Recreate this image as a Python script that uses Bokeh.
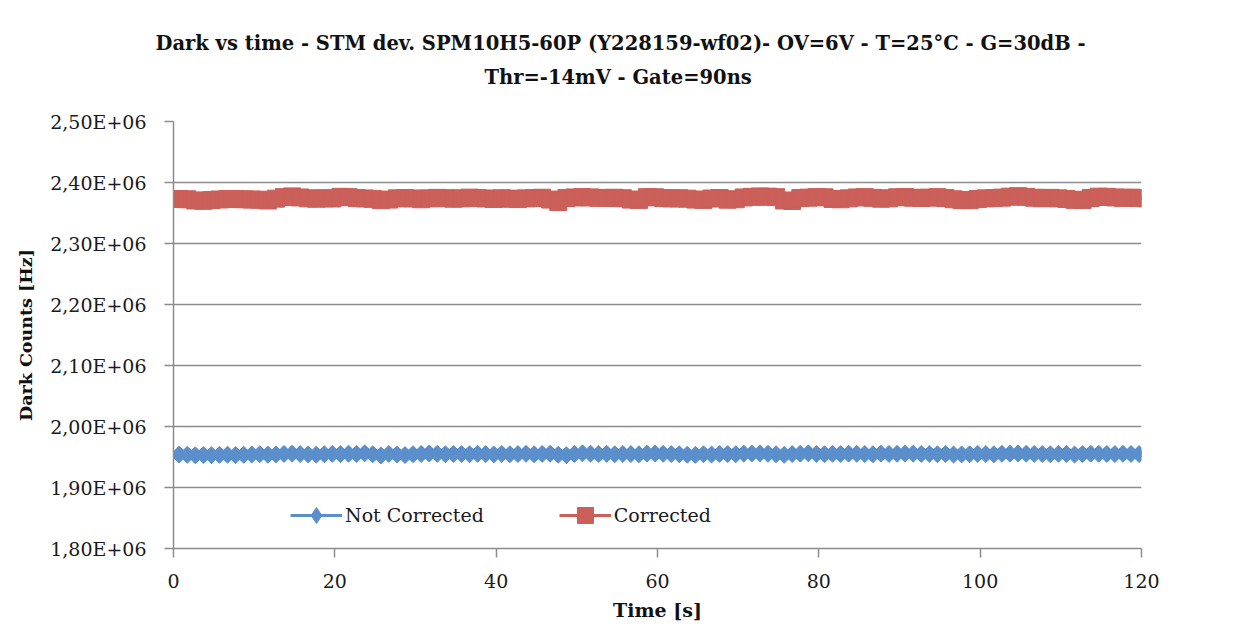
import numpy as np
from bokeh.plotting import figure
from bokeh.models import FixedTicker, CustomJSTickFormatter, Title, Legend, LegendItem, Range1d
from bokeh.embed import file_html
from bokeh.resources import INLINE

# ---------------- data ----------------
title_line1 = "Dark vs time - STM dev. SPM10H5-60P (Y228159-wf02)- OV=6V - T=25°C - G=30dB -"
title_line2 = "Thr=-14mV - Gate=90ns"
x_label = "Time [s]"
y_label = "Dark Counts [Hz]"
series_names = ["Not Corrected", "Corrected"]

time_s = [round(0.7 + i, 1) for i in range(121)]

not_corrected_e6 = [
    1.9540, 1.9535, 1.9528, 1.9532, 1.9530, 1.9535, 1.9538, 1.9532, 1.9536, 1.9540,
    1.9545, 1.9538, 1.9542, 1.9550, 1.9555, 1.9548, 1.9542, 1.9538, 1.9545, 1.9552,
    1.9548, 1.9555, 1.9550, 1.9560, 1.9545, 1.9525, 1.9550, 1.9540, 1.9532, 1.9545,
    1.9550, 1.9558, 1.9552, 1.9545, 1.9550, 1.9548, 1.9545, 1.9552, 1.9548, 1.9542,
    1.9550, 1.9545, 1.9548, 1.9552, 1.9545, 1.9550, 1.9555, 1.9538, 1.9530, 1.9550,
    1.9560, 1.9555, 1.9548, 1.9552, 1.9545, 1.9550, 1.9548, 1.9545, 1.9555, 1.9558,
    1.9552, 1.9548, 1.9545, 1.9538, 1.9535, 1.9545, 1.9540, 1.9550, 1.9548, 1.9545,
    1.9555, 1.9558, 1.9560, 1.9552, 1.9545, 1.9535, 1.9548, 1.9555, 1.9560, 1.9550,
    1.9545, 1.9552, 1.9548, 1.9555, 1.9552, 1.9548, 1.9545, 1.9555, 1.9550, 1.9552,
    1.9558, 1.9555, 1.9550, 1.9548, 1.9545, 1.9550, 1.9540, 1.9542, 1.9545, 1.9550,
    1.9548, 1.9545, 1.9552, 1.9555, 1.9558, 1.9552, 1.9550, 1.9548, 1.9545, 1.9552,
    1.9550, 1.9540, 1.9548, 1.9555, 1.9552, 1.9550, 1.9548, 1.9552, 1.9550, 1.9548,
    1.9552]

corrected_e6 = [
    2.3730, 2.3725, 2.3705, 2.3700, 2.3712, 2.3722, 2.3728, 2.3730, 2.3725, 2.3720,
    2.3718, 2.3705, 2.3735, 2.3760, 2.3772, 2.3755, 2.3740, 2.3735, 2.3742, 2.3738,
    2.3765, 2.3760, 2.3745, 2.3738, 2.3732, 2.3712, 2.3720, 2.3740, 2.3745, 2.3738,
    2.3725, 2.3740, 2.3748, 2.3742, 2.3735, 2.3740, 2.3752, 2.3745, 2.3738, 2.3730,
    2.3742, 2.3735, 2.3728, 2.3740, 2.3745, 2.3750, 2.3720, 2.3680, 2.3745, 2.3755,
    2.3760, 2.3755, 2.3748, 2.3745, 2.3750, 2.3742, 2.3720, 2.3715, 2.3760, 2.3758,
    2.3745, 2.3738, 2.3742, 2.3735, 2.3720, 2.3715, 2.3738, 2.3745, 2.3718, 2.3725,
    2.3755, 2.3765, 2.3770, 2.3768, 2.3760, 2.3705, 2.3698, 2.3745, 2.3752, 2.3760,
    2.3758, 2.3730, 2.3725, 2.3740, 2.3755, 2.3760, 2.3748, 2.3735, 2.3740, 2.3758,
    2.3762, 2.3750, 2.3745, 2.3752, 2.3760, 2.3745, 2.3725, 2.3712, 2.3710, 2.3728,
    2.3740, 2.3745, 2.3752, 2.3768, 2.3775, 2.3765, 2.3750, 2.3742, 2.3748, 2.3740,
    2.3730, 2.3715, 2.3712, 2.3745, 2.3768, 2.3765, 2.3755, 2.3748, 2.3752, 2.3745,
    2.3740]

x_ticks = [0, 20, 40, 60, 80, 100, 120]
y_ticks = [1800000, 1900000, 2000000, 2100000, 2200000, 2300000, 2400000, 2500000]

not_corrected = [v * 1e6 for v in not_corrected_e6]
corrected = [v * 1e6 for v in corrected_e6]

# ---------------- styling ----------------
FONT = "DejaVu Serif"
BLUE = "#5A8FCB"
RED = "#CB5F5A"
AXIS_GRAY = "#8C8C8C"

p = figure(width=1236, height=628, output_backend="svg", toolbar_location=None, title=None,
           x_range=Range1d(x_ticks[0], x_ticks[-1]), y_range=Range1d(y_ticks[0], y_ticks[-1]),
           min_border_left=173, min_border_right=95, min_border_top=121, min_border_bottom=80)
p.outline_line_color = None
p.background_fill_color = "white"
p.border_fill_color = "white"

# panels above are stacked outward from the frame in the order they are added
p.add_layout(Title(text=" ", text_font_size="1px", standoff=25), "above")
p.add_layout(Title(text=title_line2, align="left", offset=311, text_font=FONT, text_font_size="19.5px",
                   text_font_style="bold", text_color="#111111", standoff=9), "above")
p.add_layout(Title(text=title_line1, align="left", offset=-18, text_font=FONT, text_font_size="19.5px",
                   text_font_style="bold", text_color="#111111", standoff=9), "above")

# axes
p.xaxis.ticker = FixedTicker(ticks=x_ticks)
p.yaxis.ticker = FixedTicker(ticks=y_ticks)
p.yaxis.formatter = CustomJSTickFormatter(
    code="var s = tick.toExponential(2).replace('.', ','); return s.replace(/e([+-])(\\d)$/, 'E$10$2').toUpperCase();")
for ax in (p.xaxis[0], p.yaxis[0]):
    ax.axis_line_color = AXIS_GRAY
    ax.axis_line_width = 1.5
    ax.major_tick_line_color = AXIS_GRAY
    ax.major_tick_line_width = 1.5
    ax.major_tick_out = 9
    ax.major_tick_in = 0
    ax.minor_tick_line_color = None
    ax.major_label_text_font = FONT
    ax.major_label_text_font_size = "19px"
    ax.major_label_text_color = "#1a1a1a"
    ax.axis_label_text_font = FONT
    ax.axis_label_text_font_style = "bold"
    ax.axis_label_text_color = "#111111"
p.xaxis.axis_label = x_label
p.yaxis.axis_label = y_label
p.xaxis.axis_label_text_font_size = "19px"
p.yaxis.axis_label_text_font_size = "17.5px"
p.xaxis.major_label_standoff = 16
p.yaxis.major_label_standoff = 18
p.xaxis.axis_label_standoff = 8
p.yaxis.axis_label_standoff = 11

p.xgrid.grid_line_color = None
p.ygrid.grid_line_color = AXIS_GRAY
p.ygrid.grid_line_width = 1.5

# series
l1 = p.line(time_s, not_corrected, line_color=BLUE, line_width=3)
key1 = p.scatter(time_s[:1], not_corrected[:1], marker="diamond", size=1,
                 fill_color=BLUE, line_color=BLUE)  # provides the diamond legend key
s1 = p.scatter(time_s, not_corrected, marker="square", angle=np.pi / 4, size=12,
               fill_color=BLUE, line_color=BLUE)
l2 = p.line(time_s, corrected, line_color=RED, line_width=3)
s2 = p.scatter(time_s, corrected, marker="square", size=17, fill_color=RED, line_color=RED)

legend = Legend(items=[LegendItem(label=series_names[0], renderers=[l1, key1]),
                       LegendItem(label=series_names[1], renderers=[l2, s2])],
                orientation="horizontal", location=(117, 13),
                glyph_width=52, glyph_height=40, label_standoff=3, spacing=75,
                padding=0, margin=0, border_line_color=None, background_fill_alpha=0,
                label_text_font=FONT, label_text_font_size="19px", label_text_color="#1a1a1a")
p.add_layout(legend, "center")

open("out.html", "w").write(file_html(p, INLINE))
